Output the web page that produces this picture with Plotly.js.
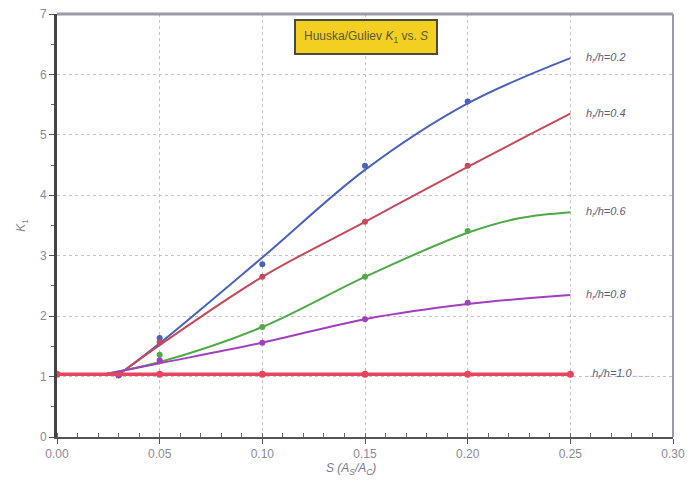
<!DOCTYPE html>
<html><head><meta charset="utf-8">
<script src="https://cdn.plot.ly/plotly-3.0.1.min.js"></script>
<style>html,body{margin:0;padding:0;background:#fff}#c{width:688px;height:482px}</style>
</head><body><div id="c"></div>
<script>
// fitted curve points
const curveS = [0.03, 0.05, 0.10, 0.15, 0.20, 0.25];
const curve02 = [1.03, 1.55, 2.97, 4.42, 5.52, 6.27];
const curve04 = [1.03, 1.52, 2.65, 3.56, 4.47, 5.35];
const curve06S = [0.022, 0.05, 0.10, 0.15, 0.20, 0.225, 0.25];
const curve06 = [1.03, 1.24, 1.82, 2.65, 3.38, 3.62, 3.72];
const curve08S = [0.022, 0.05, 0.10, 0.15, 0.20, 0.25];
const curve08 = [1.03, 1.22, 1.56, 1.95, 2.20, 2.35];
// measured points
const ptS = [0.03, 0.05, 0.10, 0.15, 0.20];
const pt02 = [1.02, 1.64, 2.86, 4.49, 5.55];
const pt04 = [1.02, 1.57, 2.65, 3.56, 4.49];
const pt06 = [1.02, 1.36, 1.82, 2.65, 3.41];
const pt08 = [1.02, 1.27, 1.56, 1.95, 2.22];
const flatS = [0, 0.05, 0.10, 0.15, 0.20, 0.25];
const flat10 = [1.04, 1.04, 1.04, 1.04, 1.04, 1.04];
const labels = ["0.2", "0.4", "0.6", "0.8", "1.0"];
const labelY = [6.27, 5.35, 3.72, 2.35, 1.04];
const xTicks = [0, 0.05, 0.10, 0.15, 0.20, 0.25, 0.30];
const xTickText = ["0.00", "0.05", "0.10", "0.15", "0.20", "0.25", "0.30"];

const cols = ["#4a62b8", "#c44a5c", "#4faa48", "#a23fbf"];
const curvesY = [curve02, curve04, curve06, curve08];
const curvesX = [curveS, curveS, curve06S, curve08S];
const pts = [pt02, pt04, pt06, pt08];

const data = [];
for (let i = 0; i < 4; i++) {
  data.push({x: curvesX[i], y: curvesY[i], mode: 'lines', line: {color: cols[i], width: 2, shape: 'spline', smoothing: 1}, hoverinfo: 'skip'});
  data.push({x: ptS, y: pts[i], mode: 'markers', marker: {color: cols[i], size: 6}});
}
data.push({x: flatS, y: flat10, mode: 'lines+markers', line: {color: '#e8445e', width: 3.5}, marker: {color: '#e8445e', size: 7}});

const annotations = labels.map((l, i) => ({
  x: 0.2565, y: labelY[i], xref: 'x', yref: 'y', xanchor: 'left', yanchor: 'middle', showarrow: false,
  text: (i === 4 ? '<span style="color:#aab">..</span>' : '') + '<i>h<sub>r</sub>/h=' + l + '</i>' + (i === 4 ? '<span style="color:#aab">......</span>' : ''),
  font: {family: 'Liberation Sans, Arial', size: 11, color: '#5a6078'}
}));
annotations.push({
  x: 0.1505, y: 6.62, xref: 'x', yref: 'y', showarrow: false,
  text: 'Huuska/Guliev <i>K</i><sub>1</sub> vs. <i>S</i>',
  bgcolor: '#f3cf22', bordercolor: '#4a4a40', borderwidth: 2, borderpad: 8,
  font: {family: 'Liberation Sans, Arial', size: 12, color: '#5a5a3a'}
});
annotations.push({
  x: 0.143, y: -0.075, xref: 'x', yref: 'paper', showarrow: false, yanchor: 'middle',
  text: '<i>S (A<sub>S</sub>/A<sub>C</sub>)</i>', font: {family: 'Liberation Sans, Arial', size: 12, color: '#7a7a8a'}
});

const layout = {
  width: 688, height: 482,
  margin: {l: 57, r: 15, t: 14, b: 45},
  showlegend: false,
  paper_bgcolor: '#fff', plot_bgcolor: '#fff',
  xaxis: {
    range: [0, 0.30], tickvals: xTicks, ticktext: xTickText,
    showgrid: true, gridcolor: '#c4c4cc', griddash: 'dot', gridwidth: 1,
    showline: true, linecolor: '#555', linewidth: 2, mirror: false,
    ticks: 'outside', ticklen: 5, tickcolor: '#555',
    minor: {dtick: 0.01, ticks: 'inside', ticklen: 4, tickcolor: '#666', showgrid: false},
    tickfont: {family: 'Liberation Sans, Arial', size: 12, color: '#8a8a96'},
    zeroline: false
  },
  yaxis: {
    range: [0, 7], dtick: 1,
    showgrid: true, gridcolor: '#c4c4cc', griddash: 'dot', gridwidth: 1,
    showline: true, linecolor: '#444', linewidth: 3,
    ticks: 'outside', ticklen: 5, tickcolor: '#555',
    minor: {dtick: 0.5, ticks: 'outside', ticklen: 3, tickcolor: '#666', showgrid: false},
    tickfont: {family: 'Liberation Sans, Arial', size: 12, color: '#8a8a96'},
    title: {text: '<i>K</i><sub>1</sub>', font: {family: 'Liberation Sans, Arial', size: 12, color: '#8a8a96'}, standoff: 12},
    zeroline: false
  },
  annotations: annotations,
  shapes: [
    {type: 'line', xref: 'paper', yref: 'paper', x0: 0, x1: 1, y0: 1, y1: 1, line: {color: '#9a9aa8', width: 3}},
    {type: 'line', xref: 'paper', yref: 'paper', x0: 1, x1: 1, y0: 0, y1: 1, line: {color: '#9a9aa8', width: 2}}
  ]
};
Plotly.newPlot('c', data, layout, {displayModeBar: false, staticPlot: true});
</script></body></html>
